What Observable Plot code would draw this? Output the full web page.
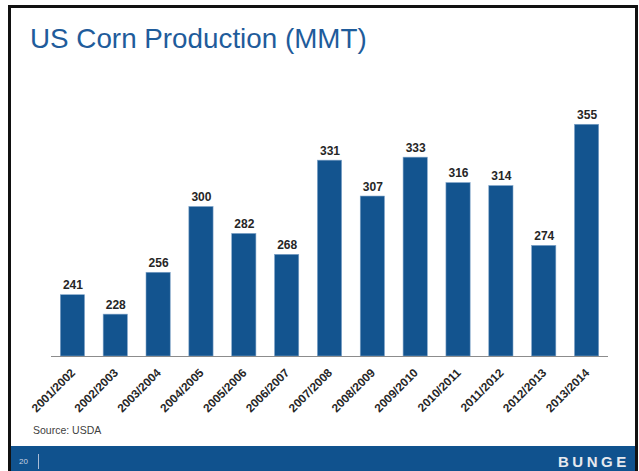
<!DOCTYPE html>
<html>
<head>
<meta charset="utf-8">
<script src="https://cdn.jsdelivr.net/npm/d3@7"></script>
<script src="https://cdn.jsdelivr.net/npm/@observablehq/plot@0.6"></script>
<style>
  html, body { margin: 0; padding: 0; background: #fff; }
  #slide { position: relative; width: 639px; height: 471px; overflow: hidden; background: #fff;
           font-family: "Liberation Sans", Arial, sans-serif; }
  #title { position: absolute; left: 30px; top: 23px; font-size: 27.8px; color: #1f5c9b; white-space: nowrap; }
  #chart { position: absolute; left: 0; top: 40px; }
  #source { position: absolute; left: 33px; top: 424px; font-size: 10.5px; color: #404040; }
  #band { position: absolute; left: 11px; top: 446px; width: 624px; height: 25px; background: #10528e; }
  #pagenum { position: absolute; left: 19px; top: 457px; font-size: 8px; color: #c8d3e3; }
  #sep { position: absolute; left: 38px; top: 454px; width: 1px; height: 15px; background: #a9bcd6; }
  #logo { position: absolute; left: 558px; top: 453px; font-size: 15px; font-weight: bold; color: #e6e9ee; letter-spacing: 3.5px; }
  .frame { position: absolute; background: #111; }
</style>
</head>
<body>
<div id="slide">
  <div class="frame" style="left:8px; top:5px; width:629px; height:3px;"></div>
  <div class="frame" style="left:8px; top:5px; width:3px; height:466px;"></div>
  <div class="frame" style="left:635px; top:5px; width:3px; height:466px;"></div>
  <div id="title">US Corn Production (MMT)</div>
  <div id="chart"></div>
  <div id="source">Source: USDA</div>
  <div id="band"></div>
  <div id="pagenum">20</div>
  <div id="sep"></div>
  <div id="logo">BUNGE</div>
</div>
<script>
const years = ["2001/2002","2002/2003","2003/2004","2004/2005","2005/2006","2006/2007","2007/2008",
               "2008/2009","2009/2010","2010/2011","2011/2012","2012/2013","2013/2014"];
const production = [241, 228, 256, 300, 282, 268, 331, 307, 333, 316, 314, 274, 355];
const yDomain = [200, 400];

const data = years.map((y, i) => ({year: y, value: production[i]}));

const chart = Plot.plot({
  width: 639,
  height: 400,
  marginLeft: 51,
  marginRight: 31,
  marginTop: 17,
  marginBottom: 84,
  style: {fontFamily: "'Liberation Sans', Arial, sans-serif", background: "transparent", overflow: "visible"},
  x: {domain: years, paddingInner: 0.435, paddingOuter: 0.2175, round: false, axis: null},
  y: {domain: yDomain, axis: null},
  marks: [
    Plot.barY(data, {x: "year", y1: () => yDomain[0], y2: "value", fill: "#13548f", stroke: "#7fa3c8", strokeWidth: 0.6}),
    Plot.ruleY([yDomain[0]], {stroke: "#8c8c8c", strokeWidth: 1}),
    Plot.text(data, {x: "year", y: "value", text: d => String(d.value), dy: -6, lineAnchor: "bottom",
                     fontSize: 12, fontWeight: "bold", fill: "#262626"}),
    Plot.text(years, {x: d => d, frameAnchor: "bottom", text: d => d, rotate: -45, textAnchor: "end",
                      lineAnchor: "bottom", dx: 3, dy: 17, fontSize: 11.8, fontWeight: "bold", fill: "#262626"})
  ]
});
document.getElementById("chart").appendChild(chart);
</script>
</body>
</html>
